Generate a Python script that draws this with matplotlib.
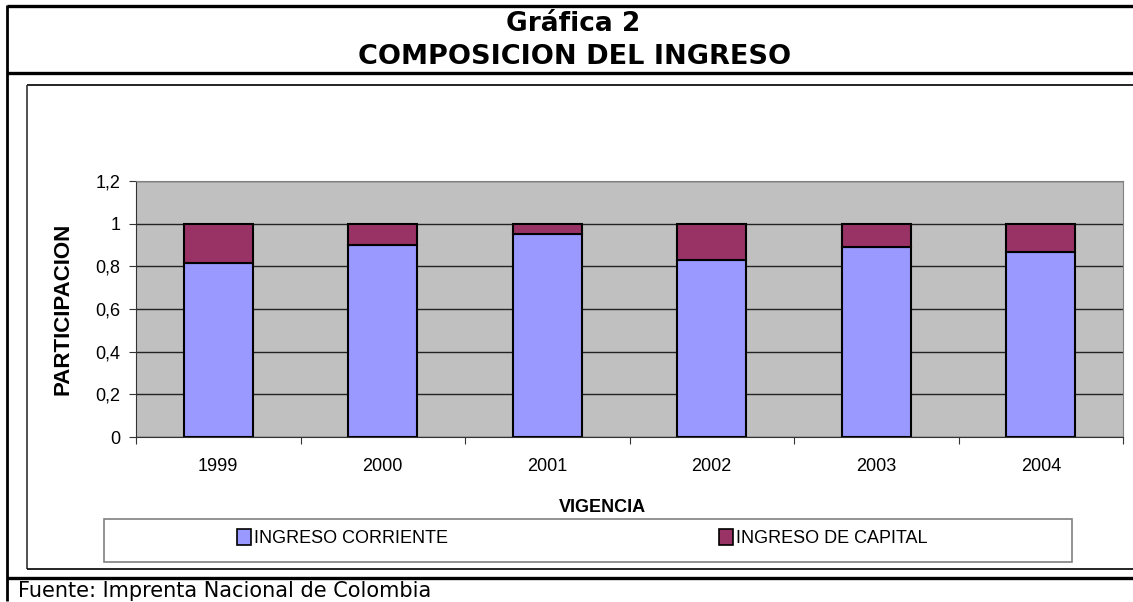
import numpy as np
import matplotlib
matplotlib.use("Agg")
import matplotlib.pyplot as plt
from matplotlib.lines import Line2D
from matplotlib.patches import Rectangle, Patch

anios = ['1999', '2000', '2001', '2002', '2003', '2004']
corriente = [0.815, 0.898, 0.952, 0.832, 0.889, 0.869]
capital = [1 - v for v in corriente]
yticks = [0, 0.2, 0.4, 0.6, 0.8, 1, 1.2]
ylabels = ['0', '0,2', '0,4', '0,6', '0,8', '1', '1,2']

W, H = 1133, 602
fig = plt.figure(figsize=(W / 100, H / 100), dpi=100)

def fx(px):
    return px / W

def fy(py):
    return 1 - py / H

def linea(x0, y0, x1, y1, lw, color='black'):
    fig.add_artist(Line2D([fx(x0), fx(x1)], [fy(y0), fy(y1)], lw=lw, color=color,
                          solid_capstyle='butt'))

# marco exterior
linea(7, 6, W, 6, 2.4)
linea(7, 4.8, 7, 601, 2.0)
linea(7, 73, W, 73, 2.4)
linea(7, 578, W, 578, 2.4)
# caja del grafico
linea(27, 85, W, 85, 1.2)
linea(27, 85, 27, 569, 1.2, '#333333')
linea(27, 569, W, 569, 1.2)

fig.text(fx(573), fy(24), 'Gráfica 2', ha='center', va='center',
         fontsize=19, fontweight='bold', family='DejaVu Sans')
fig.text(fx(575), fy(57), 'COMPOSICION DEL INGRESO', ha='center', va='center',
         fontsize=19.5, fontweight='bold', family='DejaVu Sans')
fig.text(fx(18), fy(591), 'Fuente: Imprenta Nacional de Colombia', ha='left', va='center',
         fontsize=15, family='DejaVu Sans')

ax = fig.add_axes([fx(136), fy(437), fx(1123) - fx(136), fy(181) - fy(437)])
ax.set_facecolor('#C0C0C0')
x = np.arange(len(anios))
ax.bar(x, corriente, width=0.42, color='#9999FF', edgecolor='black', linewidth=1.5,
       label='INGRESO CORRIENTE', zorder=3)
ax.bar(x, capital, width=0.42, bottom=corriente, color='#993366', edgecolor='black',
       linewidth=1.5, label='INGRESO DE CAPITAL', zorder=3)

ax.set_xlim(-0.5, len(anios) - 0.5)
ax.set_ylim(0, 1.2)
ax.set_yticks(yticks)
ax.set_yticklabels(ylabels, family='Liberation Sans', fontsize=13)
ax.yaxis.grid(True, color='#222222', lw=1.0, zorder=1)
ax.set_xticks(np.arange(-0.5, len(anios)), minor=False)
ax.set_xticklabels([])
ax.set_xticks(x, minor=True)
ax.set_xticklabels(anios, minor=True, family='Liberation Sans', fontsize=13)
ax.tick_params(axis='x', which='major', length=5, color='#333333')
ax.tick_params(axis='x', which='minor', length=0, pad=15)
ax.tick_params(axis='y', length=5, color='#333333', pad=6)
for s in ['top', 'right']:
    ax.spines[s].set_color('#808080')
for s in ['left', 'bottom']:
    ax.spines[s].set_color('#333333')

ax.set_ylabel('PARTICIPACION', family='Liberation Sans', fontsize=16, fontweight='bold',
              labelpad=16)
fig.text(fx(602), fy(508), 'VIGENCIA', ha='center', va='center',
         family='Liberation Sans', fontsize=13, fontweight='bold')

# leyenda
fig.add_artist(Rectangle((fx(104), fy(562)), fx(1072) - fx(104), fy(519) - fy(562),
                         transform=fig.transFigure, facecolor='white', edgecolor='#808080',
                         lw=1.2))
handles = [Patch(facecolor='#9999FF', edgecolor='black', lw=1.2),
           Patch(facecolor='#993366', edgecolor='black', lw=1.2)]
fig.legend(handles, ['INGRESO CORRIENTE', 'INGRESO DE CAPITAL'], loc='center',
           bbox_to_anchor=(fx(582), fy(538)), ncol=2, frameon=False,
           prop={'family': 'Liberation Sans', 'size': 13},
           handlelength=0.8, handleheight=1.0, handletextpad=0.15, columnspacing=15)

fig.savefig('out.png', dpi=100)
